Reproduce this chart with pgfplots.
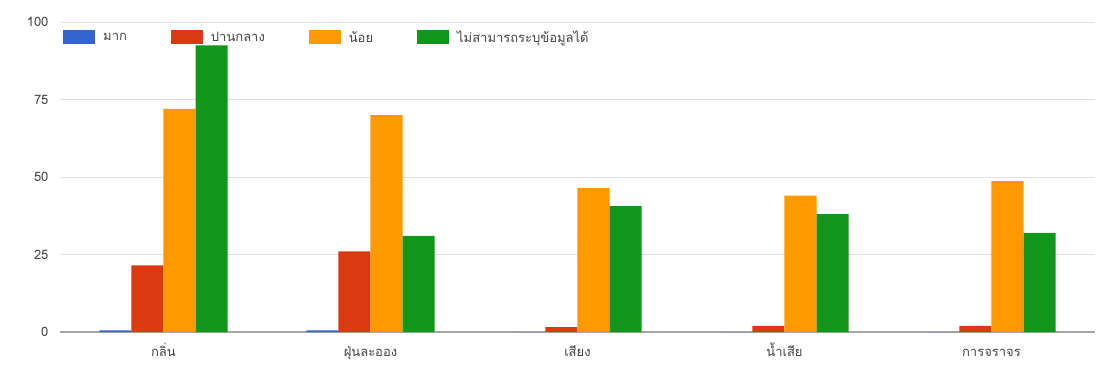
\documentclass[border=0pt]{standalone}
\usepackage{pgfplots}
\pgfplotsset{compat=1.18}
\usepackage{fontspec}
\setmainfont{Liberation Sans}
\newfontfamily\thaifont[Script=Thai]{Loma}
\definecolor{cblue}{HTML}{3366CC}
\definecolor{cred}{HTML}{DC3912}
\definecolor{corange}{HTML}{FF9900}
\definecolor{cgreen}{HTML}{109618}
\definecolor{tgrey}{HTML}{444444}
\begin{document}
\begin{tikzpicture}[x=1pt,y=1pt]
\useasboundingbox (0,0) rectangle (1098,376);
\begin{axis}[
  at={(60pt,44pt)}, anchor=south west,
  scale only axis, width=1035pt, height=310pt,
  ybar=0pt, bar width=0.155,
  xmin=-0.5, xmax=4.5, ymin=0, ymax=100,
  xtick=data, xticklabels={กลิ่น,ฝุ่นละออง,เสียง,น้ำเสีย,การจราจร},
  ytick={0,25,50,75,100},
  ymajorgrids, grid style={draw=black!12, line width=1pt},
  axis x line*=bottom, axis y line*=left,
  y axis line style={draw=none},
  x axis line style={draw=black!35, line width=1.5pt, -},
  major tick length=0pt,
  tick label style={font=\thaifont\fontsize{13}{15}\selectfont, text=tgrey},
  yticklabel style={xshift=-8pt},
  xticklabel style={yshift=-10pt, anchor=north, text height=11pt, text depth=4pt},
  /pgf/number format/assume math mode=true,
  legend style={at={(0.0,0.985)}, anchor=north west, draw=none, fill=none,
    font=\thaifont\fontsize{13}{15}\selectfont, text=tgrey,
    /tikz/every odd column/.append style={column sep=6pt},
    /tikz/every even column/.append style={column sep=42pt}},
  legend columns=4,
  legend cell align=left,
  legend image code/.code={\fill[#1] (0pt,-7pt) rectangle (32pt,7pt);},
  every axis plot/.append style={draw=none},
]
\addplot[fill=cblue] coordinates {(0,0.5) (1,0.5) (2,0) (3,0) (4,0)};
\addplot[fill=cred] coordinates {(0,21.5) (1,26) (2,1.6) (3,2) (4,2)};
\addplot[fill=corange] coordinates {(0,72) (1,70) (2,46.5) (3,44) (4,48.7)};
\addplot[fill=cgreen] coordinates {(0,92.5) (1,31) (2,40.6) (3,38) (4,32)};
\legend{มาก,ปานกลาง,น้อย,ไม่สามารถระบุข้อมูลได้}
\end{axis}
\end{tikzpicture}
\end{document}
